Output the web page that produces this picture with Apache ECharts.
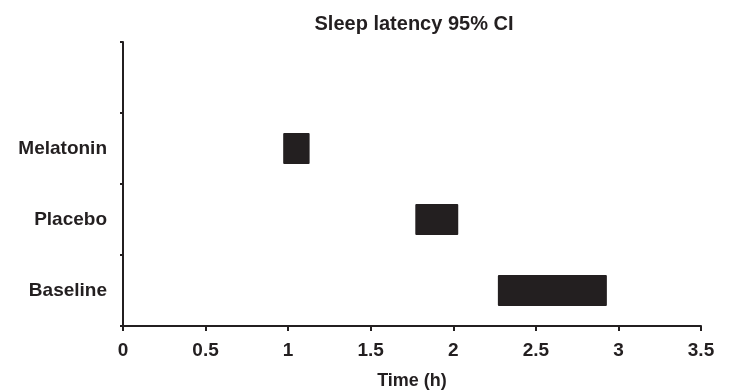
<!DOCTYPE html>
<html><head><meta charset="utf-8">
<script src="https://cdn.jsdelivr.net/npm/echarts@6/dist/echarts.min.js"></script>
<style>html,body{margin:0;padding:0;background:#fff}#c{width:732px;height:391px}</style>
</head><body><div id="c"></div>
<script>
const categories = ['Baseline', 'Placebo', 'Melatonin', ''];
const ciLow = [2.27, 1.77, 0.97, null];
const ciHigh = [2.93, 2.03, 1.13, null];
const xTicks = [0, 0.5, 1, 1.5, 2, 2.5, 3, 3.5];

const rangeVals = ciLow.map((v, i) => v == null ? null : +(ciHigh[i] - v).toFixed(3));
const font = '"Liberation Sans", Arial, sans-serif';
const chart = echarts.init(document.getElementById('c'));
chart.setOption({
  animation: false,
  title: {
    text: 'Sleep latency 95% CI', left: 409, top: 9, textAlign: 'center',
    textStyle: { fontFamily: font, fontWeight: 'bold', fontSize: 20, color: '#231f20' }
  },
  grid: { left: 123, right: 31, top: 42, bottom: 65, outerBoundsMode: 'none', containLabel: false },
  xAxis: {
    type: 'value', min: 0, max: 3.5, interval: 0.5,
    name: 'Time (h)', nameLocation: 'middle', nameGap: 46,
    nameTextStyle: { fontFamily: font, fontWeight: 'bold', fontSize: 18, color: '#231f20' },
    axisLine: { show: true, lineStyle: { color: '#231f20', width: 2 } },
    axisTick: { show: true, length: 5, lineStyle: { color: '#231f20', width: 2 } },
    splitLine: { show: false },
    axisLabel: { fontFamily: font, fontWeight: 'bold', fontSize: 19, color: '#231f20', margin: 15,
      formatter: v => String(v) }
  },
  yAxis: {
    type: 'category', data: categories,
    axisLine: { show: true, lineStyle: { color: '#231f20', width: 2 } },
    axisTick: { show: true, length: 3, alignWithLabel: false, lineStyle: { color: '#231f20', width: 2 } },
    axisLabel: { fontFamily: font, fontWeight: 'bold', fontSize: 19, color: '#231f20', margin: 16 }
  },
  series: [
    { type: 'bar', stack: 'ci', data: ciLow, itemStyle: { color: 'transparent' }, barWidth: 31, silent: true },
    { type: 'bar', stack: 'ci', data: rangeVals, barWidth: 31,
      itemStyle: { color: '#231f20', borderRadius: 1 } }
  ]
});
</script></body></html>
